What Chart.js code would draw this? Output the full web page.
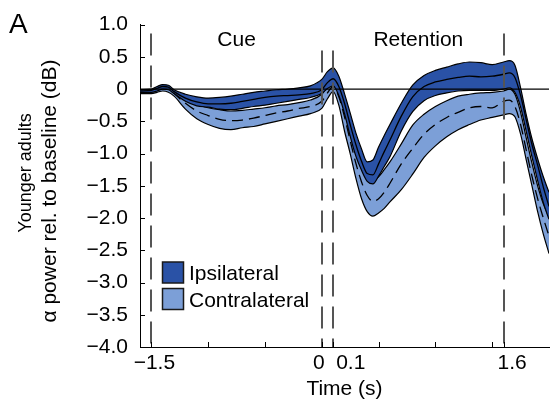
<!DOCTYPE html>
<html>
<head>
<meta charset="utf-8">
<script src="https://cdn.jsdelivr.net/npm/chart.js@4.4.1/dist/chart.umd.min.js"></script>
<style>
  html, body { margin: 0; padding: 0; background: #fff; }
  #wrap { width: 550px; height: 403px; }
</style>
</head>
<body>
<div id="wrap"><canvas id="chart" width="550" height="403"></canvas></div>
<script>
// time (s) of each sample
const times = [-1.6, -1.5, -1.45, -1.4, -1.35, -1.3, -1.2, -1.1, -1.0, -0.9, -0.8, -0.7, -0.6, -0.5, -0.4, -0.3, -0.2, -0.1,
  0, 0.05, 0.1, 0.15, 0.2, 0.25, 0.3, 0.35, 0.4, 0.45, 0.5, 0.55, 0.6,
  0.7, 0.8, 0.9, 1.0, 1.1, 1.2, 1.3, 1.4, 1.5, 1.6, 1.65, 1.7, 1.75, 1.8, 1.85, 1.9, 1.95, 2.0]

// ipsilateral: mean and band edges (dB)
const ipsiMean = [-0.03, -0.02, 0.01, 0.04, 0.03, -0.04, -0.14, -0.20, -0.23, -0.23, -0.22, -0.19, -0.16, -0.13, -0.11, -0.10, -0.09, -0.07,
  -0.01, 0.10, 0.16, 0.04, -0.22, -0.55, -0.86, -1.12, -1.31, -1.33, -1.16, -0.97, -0.79,
  -0.42, -0.12, 0.04, 0.11, 0.15, 0.18, 0.20, 0.19, 0.20, 0.23, 0.25, 0.18, -0.10, -0.48, -0.86, -1.18, -1.52, -1.82]
const ipsiUpper = [-0.01, 0.0, 0.04, 0.07, 0.06, -0.01, -0.08, -0.12, -0.14, -0.13, -0.11, -0.08, -0.05, -0.03, -0.01, 0.0, 0.02, 0.05,
  0.15, 0.27, 0.33, 0.20, -0.07, -0.37, -0.68, -0.93, -1.13, -1.10, -0.90, -0.72, -0.55,
  -0.22, 0.06, 0.21, 0.29, 0.34, 0.39, 0.42, 0.41, 0.38, 0.42, 0.44, 0.37, 0.02, -0.40, -0.77, -1.08, -1.36, -1.60]
const ipsiLower = [-0.05, -0.05, -0.03, 0.0, -0.01, -0.07, -0.19, -0.26, -0.28, -0.31, -0.32, -0.30, -0.27, -0.25, -0.22, -0.19, -0.16, -0.13,
  -0.07, 0.01, 0.05, -0.10, -0.38, -0.73, -1.04, -1.26, -1.43, -1.47, -1.35, -1.20, -1.05,
  -0.65, -0.35, -0.18, -0.10, -0.06, -0.03, -0.02, -0.02, -0.02, 0.0, 0.02, -0.05, -0.28, -0.66, -1.05, -1.42, -1.76, -2.02]

// contralateral: mean and band edges (dB)
const contraMean = [-0.04, -0.04, -0.01, 0.02, 0.0, -0.07, -0.22, -0.34, -0.41, -0.47, -0.49, -0.48, -0.45, -0.41, -0.37, -0.34, -0.30, -0.27,
  -0.19, -0.06, 0.04, -0.12, -0.43, -0.80, -1.15, -1.44, -1.65, -1.74, -1.70, -1.60, -1.46,
  -1.16, -0.92, -0.70, -0.55, -0.44, -0.36, -0.29, -0.27, -0.29, -0.19, -0.17, -0.27, -0.55, -0.95, -1.35, -1.70, -2.00, -2.28]
const contraUpper = [-0.02, -0.02, 0.02, 0.05, 0.04, -0.03, -0.15, -0.24, -0.29, -0.32, -0.34, -0.33, -0.31, -0.29, -0.26, -0.24, -0.21, -0.17,
  -0.08, 0.04, 0.12, 0.02, -0.25, -0.60, -0.92, -1.18, -1.36, -1.42, -1.36, -1.25, -1.13,
  -0.85, -0.56, -0.39, -0.27, -0.18, -0.11, -0.08, -0.06, -0.05, -0.03, 0.0, -0.08, -0.36, -0.76, -1.15, -1.50, -1.78, -1.98]
const contraLower = [-0.07, -0.07, -0.05, -0.03, -0.05, -0.11, -0.31, -0.46, -0.55, -0.61, -0.63, -0.60, -0.58, -0.54, -0.50, -0.46, -0.42, -0.38,
  -0.30, -0.15, -0.04, -0.25, -0.65, -1.00, -1.38, -1.70, -1.90, -1.97, -1.92, -1.85, -1.75,
  -1.56, -1.32, -1.06, -0.88, -0.74, -0.63, -0.55, -0.48, -0.44, -0.40, -0.38, -0.43, -0.70, -1.10, -1.50, -1.90, -2.25, -2.55]

const yTicks = [-4.0, -3.5, -3.0, -2.5, -2.0, -1.5, -1.0, -0.5, 0, 0.5, 1.0]
const yTickLabels = ['−4.0', '−3.5', '−3.0', '−2.5', '−2.0', '−1.5', '−1.0', '−0.5', '0', '0.5', '1.0']
const xTicks = [-1.5, -1.0, -0.5, 0, 0.1, 0.5, 1.0, 1.5, 1.6]
const xTickLabels = ['−1.5', '', '', '0', '0.1', '', '', '', '1.6']
const events = [-1.5, 0, 0.1, 1.6]
const epochLabels = ['Cue', 'Retention']
const epochBounds = [[-1.5, 0], [0.1, 1.6]]
const seriesNames = ['Ipsilateral', 'Contralateral']

const DARK = '#2A52A6'
const LIGHT = '#7C9FD7'
const FONT = "'Liberation Sans', Arial, sans-serif"

Chart.defaults.font.family = FONT
Chart.defaults.color = '#000'

const pts = arr => times.map((t, i) => ({ x: t, y: arr[i] }))

const line = (data, extra) => Object.assign({
  data: pts(data),
  borderColor: '#000',
  borderWidth: 1.2,
  pointRadius: 0,
  cubicInterpolationMode: 'monotone',
  fill: false
}, extra)

// extra drawing: zero line, event markers, inward ticks, texts, legend
const decor = {
  id: 'decor',
  afterDatasetsDraw(chart) {
    const { ctx, chartArea: a, scales: { x, y } } = chart
    ctx.save()

    const y0 = y.getPixelForValue(0)
    ctx.strokeStyle = '#000'
    ctx.lineWidth = 1.2
    ctx.beginPath()
    ctx.moveTo(a.left, y0)
    ctx.lineTo(a.right, y0)
    ctx.stroke()

    ctx.strokeStyle = '#555'
    ctx.lineWidth = 2
    ctx.setLineDash([22, 10])
    events.forEach((t, i) => {
      const px = Math.round(x.getPixelForValue(t))
      const top = (i === 0 || i === events.length - 1) ? a.top + 9 : a.top + 26
      ctx.beginPath()
      ctx.moveTo(px, top)
      ctx.lineTo(px, a.bottom)
      ctx.stroke()
    })
    ctx.setLineDash([])

    ctx.strokeStyle = '#000'
    ctx.lineWidth = 1
    yTicks.forEach(v => {
      const py = Math.round(y.getPixelForValue(v)) + 0.5
      ctx.beginPath()
      ctx.moveTo(a.left, py)
      ctx.lineTo(a.left + 5, py)
      ctx.stroke()
    })
    xTicks.forEach(v => {
      const px = Math.round(x.getPixelForValue(v)) + 0.5
      ctx.beginPath()
      ctx.moveTo(px, a.bottom)
      ctx.lineTo(px, a.bottom - 5)
      ctx.stroke()
    })

    ctx.fillStyle = '#000'
    ctx.font = '21px ' + FONT
    ctx.textBaseline = 'alphabetic'
    xTicks.forEach((v, i) => {
      const txt = xTickLabels[i]
      if (!txt) return
      const px = x.getPixelForValue(v)
      const base = a.bottom + 22
      if (v === 0) {
        ctx.textAlign = 'right'
        ctx.fillText(txt, px + 3, base)
      } else if (v === 0.1) {
        ctx.textAlign = 'left'
        ctx.fillText(txt, px + 3, base)
      } else if (i === xTicks.length - 1) {
        ctx.textAlign = 'left'
        ctx.fillText(txt, px - 6, base)
      } else {
        ctx.textAlign = 'center'
        ctx.fillText(txt, px + 3, base)
      }
    })

    ctx.textAlign = 'center'
    epochLabels.forEach((txt, i) => {
      const mid = (x.getPixelForValue(epochBounds[i][0]) + x.getPixelForValue(epochBounds[i][1])) / 2
      ctx.fillText(txt, mid, a.top + 21)
    })

    // legend
    const colors = [DARK, LIGHT]
    seriesNames.forEach((name, i) => {
      const top = 262 + i * 26.5
      ctx.fillStyle = colors[i]
      ctx.fillRect(162.5, top, 21, 21)
      ctx.strokeStyle = '#1a1a1a'
      ctx.lineWidth = 1.5
      ctx.strokeRect(162.5, top, 21, 21)
      ctx.fillStyle = '#000'
      ctx.textAlign = 'left'
      ctx.fillText(name, 189, top + 18)
    })

    // y axis title (two lines) and panel letter
    ctx.save()
    ctx.translate(26, 173)
    ctx.rotate(-Math.PI / 2)
    ctx.textAlign = 'center'
    ctx.textBaseline = 'middle'
    ctx.font = '18px ' + FONT
    ctx.fillText('Younger adults', 0, 0)
    ctx.restore()
    ctx.save()
    ctx.translate(50, 191)
    ctx.rotate(-Math.PI / 2)
    ctx.textAlign = 'center'
    ctx.textBaseline = 'middle'
    ctx.font = '21px ' + FONT
    ctx.fillText('α power rel. to baseline (dB)', 0, 0)
    ctx.restore()

    ctx.font = '28px ' + FONT
    ctx.textAlign = 'left'
    ctx.textBaseline = 'alphabetic'
    ctx.fillText('A', 9, 33)

    ctx.restore()
  }
}

new Chart(document.getElementById('chart').getContext('2d'), {
  type: 'line',
  data: {
    datasets: [
      line(ipsiMean, { label: seriesNames[0], borderWidth: 1.3 }),
      line(ipsiUpper, {}),
      line(ipsiLower, { fill: '-1', backgroundColor: DARK }),
      line(contraMean, { label: seriesNames[1], borderWidth: 1.3, borderDash: [11, 6] }),
      line(contraUpper, {}),
      line(contraLower, { fill: '-1', backgroundColor: LIGHT })
    ]
  },
  options: {
    responsive: false,
    animation: false,
    devicePixelRatio: 1,
    layout: { padding: { top: 24, right: 1, left: 0, bottom: 0 } },
    plugins: {
      legend: { display: false },
      tooltip: { enabled: false }
    },
    scales: {
      x: {
        type: 'linear',
        min: -1.6,
        max: 2.0,
        grid: { display: false, drawTicks: false },
        border: { display: true, color: '#000', width: 1 },
        ticks: { display: false },
        title: {
          display: true,
          text: 'Time (s)',
          font: { size: 21 },
          color: '#000',
          padding: { top: 0, bottom: 1 }
        },
        afterFit: s => { s.height = 56 }
      },
      y: {
        min: -4,
        max: 1,
        grid: { display: false, drawTicks: false },
        border: { display: true, color: '#000', width: 1 },
        ticks: {
          stepSize: 0.5,
          padding: 12,
          font: { size: 21 },
          color: '#000',
          callback: v => yTickLabels[yTicks.findIndex(t => Math.abs(t - v) < 1e-9)]
        },
        afterFit: s => { s.width = 140 }
      }
    }
  },
  plugins: [decor]
})
</script>
</body>
</html>
